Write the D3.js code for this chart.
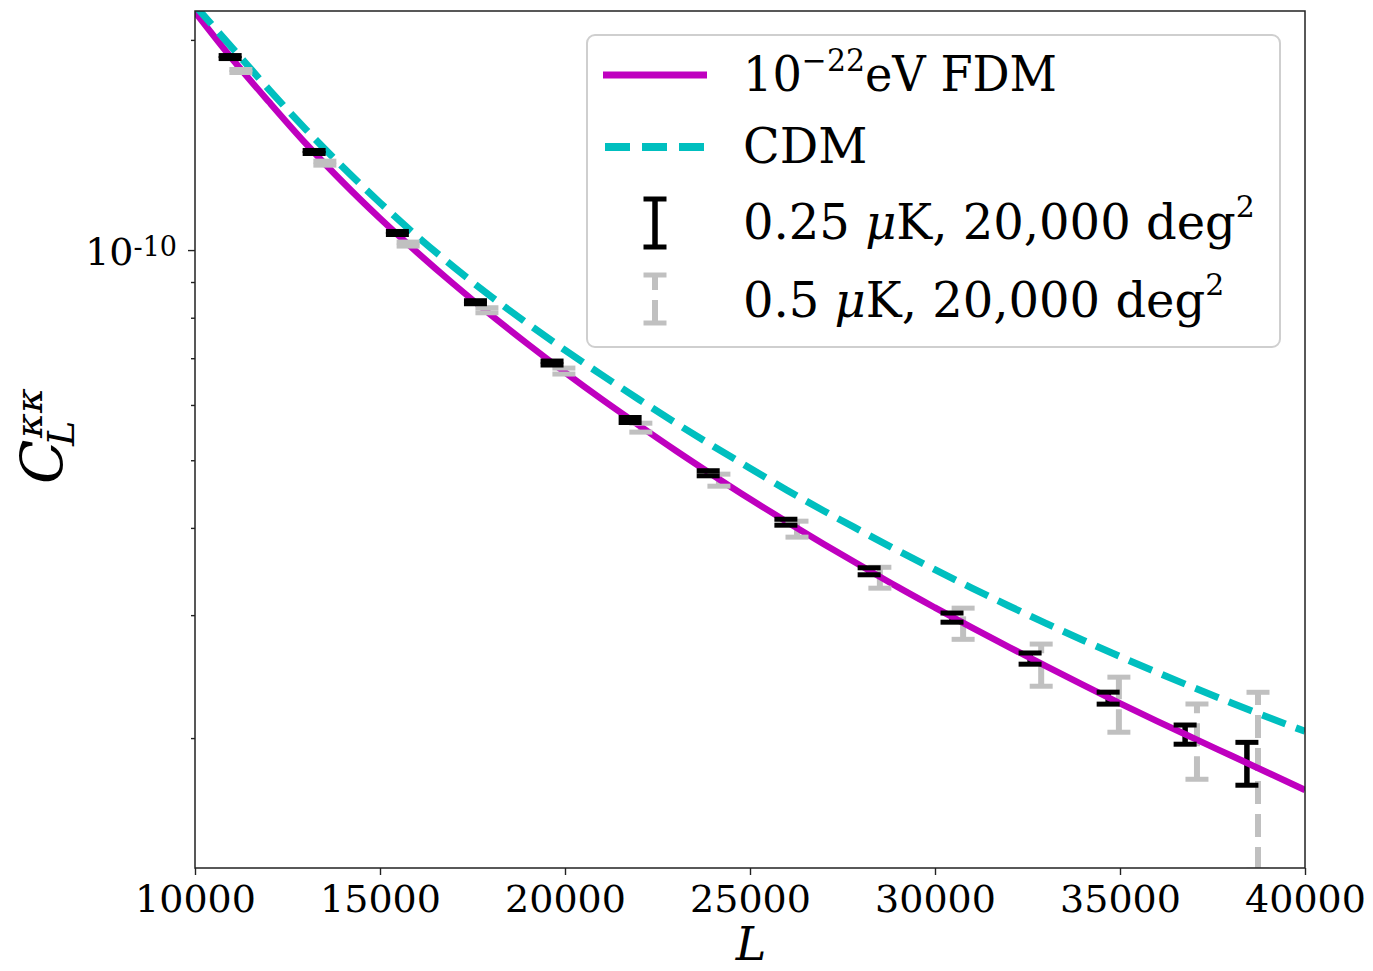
<!DOCTYPE html>
<html>
<head>
<meta charset="utf-8">
<script src="https://cdn.jsdelivr.net/npm/d3@7"></script>
<style>
body { margin: 0; background: #fff; }
text { font-family: "DejaVu Serif", serif; fill: #000; }
</style>
</head>
<body>
<script>
// values of C_L in units of 1e-10
const L_grid = [10000, 11000, 12000, 13000, 14000, 15000, 16000, 17000, 18000, 19000, 20000,
                21000, 22000, 23000, 24000, 25000, 26000, 27000, 28000, 29000, 30000,
                31000, 32000, 33000, 34000, 35000, 36000, 37000, 38000, 39000, 40000];
const fdm = [2.193, 1.880, 1.630, 1.420, 1.250, 1.110, 0.993, 0.893, 0.807, 0.733, 0.668,
             0.611, 0.561, 0.516, 0.476, 0.440, 0.408, 0.379, 0.353, 0.329, 0.3075,
             0.2878, 0.2700, 0.2535, 0.2383, 0.2243, 0.2115, 0.1998, 0.1888, 0.1784, 0.1685];
const cdm = [2.240, 1.950, 1.698, 1.488, 1.314, 1.169, 1.047, 0.945, 0.858, 0.784, 0.719,
             0.662, 0.611, 0.565, 0.524, 0.487, 0.453, 0.423, 0.396, 0.371, 0.3485,
             0.3280, 0.3092, 0.2920, 0.2762, 0.2617, 0.2484, 0.2361, 0.2247, 0.2142, 0.2045];

// 0.25 uK errorbars
const L_black = [10950, 13220, 15470, 17580, 19650, 21760, 23870, 25970, 28220, 30460, 32570, 34680, 36760, 38430];
const C_black = [1.890, 1.382, 1.058, 0.842, 0.689, 0.571, 0.479, 0.4076, 0.3467, 0.2976, 0.2600, 0.2282, 0.2024, 0.1842];
const E_black = [0.0094, 0.0069, 0.0053, 0.0042, 0.0045, 0.0047, 0.0040, 0.0040, 0.0040, 0.0045, 0.0048, 0.0045, 0.0064, 0.0130];

// 0.5 uK errorbars
const L_gray = [11240, 13510, 15760, 17890, 19970, 22050, 24160, 26270, 28510, 30760, 32870, 34970, 37080, 38730];
const C_gray = [1.805, 1.332, 1.020, 0.820, 0.671, 0.5568, 0.4683, 0.3985, 0.3396, 0.2920, 0.2550, 0.2242, 0.1992, 0.1810];
const E_gray = [0.0090, 0.0088, 0.0067, 0.0068, 0.0066, 0.0082, 0.0093, 0.0105, 0.0117, 0.0150, 0.0177, 0.0203, 0.0246, 0.0516];

const xTicks = [10000, 15000, 20000, 25000, 30000, 35000, 40000];
const yMajor = [1];
const yMinor = [0.2, 0.3, 0.4, 0.5, 0.6, 0.7, 0.8, 0.9, 2];

const W = 1373, H = 971;
const pl = 195, pr = 1305, pt = 11, pb = 868;
const magenta = "#bf00bf", cyan = "#00bfbf", silver = "#c0c0c0";

const svg = d3.select("body").append("svg").attr("width", W).attr("height", H);

var x = d3.scaleLinear().domain([10000, 40000]).range([pl, pr]);
var y = d3.scaleLog().domain([0.1303, 2.2]).range([pb, pt]);

svg.append("clipPath").attr("id", "clip")
   .append("rect").attr("x", pl).attr("y", pt).attr("width", pr - pl).attr("height", pb - pt);

const plot = svg.append("g").attr("clip-path", "url(#clip)");

function bars(Ls, Cs, Es) {
	return Ls.map((l, i) => ({ l: l, lo: Cs[i] - Es[i], hi: Cs[i] + Es[i] }));
}
const grayBars = bars(L_gray, C_gray, E_gray);
const blackBars = bars(L_black, C_black, E_black);
const capW = 11.5;

// vertical error lines (drawn bottom -> top so dashes start from the lower end)
plot.append("g").selectAll("path").data(grayBars).join("path")
	.attr("d", d => `M${x(d.l)},${y(d.lo)}V${y(d.hi)}`)
	.attr("stroke", silver).attr("stroke-width", 6).attr("fill", "none")
	.attr("stroke-dasharray", "23,10");
plot.append("g").selectAll("path").data(blackBars).join("path")
	.attr("d", d => `M${x(d.l)},${y(d.lo)}V${y(d.hi)}`)
	.attr("stroke", "#000").attr("stroke-width", 5.5).attr("fill", "none");

const line = d3.line().x((d, i) => x(L_grid[i])).y(d => y(d)).curve(d3.curveMonotoneX);

plot.append("path").datum(fdm).attr("d", line)
	.attr("fill", "none").attr("stroke", magenta).attr("stroke-width", 6.5);
plot.append("path").datum(cdm).attr("d", line)
	.attr("fill", "none").attr("stroke", cyan).attr("stroke-width", 7)
	.attr("stroke-dasharray", "25,11");

// caps
function caps(data, color) {
	const g = plot.append("g");
	["lo", "hi"].forEach(k => {
		g.append("g").selectAll("line").data(data).join("line")
			.attr("x1", d => x(d.l) - capW).attr("x2", d => x(d.l) + capW)
			.attr("y1", d => y(d[k])).attr("y2", d => y(d[k]))
			.attr("stroke", color).attr("stroke-width", 5);
	});
}
caps(grayBars, silver);
caps(blackBars, "#000");

// axes
const xAxis = svg.append("g").attr("transform", `translate(0,${pb})`)
	.call(d3.axisBottom(x).tickValues(xTicks).tickSize(7).tickPadding(10).tickFormat(d3.format("d")));
xAxis.selectAll("text").attr("font-size", 38).attr("font-family", "DejaVu Serif");

const yMinorAxis = svg.append("g").attr("transform", `translate(${pl},0)`)
	.call(d3.axisLeft(y).tickValues(yMinor).tickSize(4).tickFormat(""));
const yAxis = svg.append("g").attr("transform", `translate(${pl},0)`)
	.call(d3.axisLeft(y).tickValues(yMajor).tickSize(7).tickFormat(""));
[xAxis, yAxis, yMinorAxis].forEach(a => {
	a.select(".domain").remove();
	a.selectAll("line").attr("stroke", "#222").attr("stroke-width", 1.4);
});

yMajor.forEach(v => {
	const t = svg.append("text").attr("x", 177).attr("y", y(v) + 15)
		.attr("text-anchor", "end").attr("font-size", 38);
	t.append("tspan").text("10");
	t.append("tspan").attr("font-size", 27).attr("dy", -9).text("-10");
});

// frame
svg.append("rect").attr("x", pl).attr("y", pt).attr("width", pr - pl).attr("height", pb - pt)
	.attr("fill", "none").attr("stroke", "#222").attr("stroke-width", 1.5);

// axis labels
svg.append("text").attr("x", 751).attr("y", 960).attr("text-anchor", "middle")
	.attr("font-family", "Liberation Serif").attr("font-size", 46).attr("font-style", "italic").text("L");

const yl = svg.append("g").attr("transform", "translate(62,484) rotate(-90)")
	.attr("font-family", "Liberation Serif").attr("font-style", "italic");
yl.append("text").attr("x", 0).attr("y", 0).attr("font-size", 58).text("C");
yl.append("text").attr("x", 38).attr("y", 12).attr("font-size", 38).text("L");
yl.append("text").attr("x", 46).attr("y", -20).attr("font-size", 38).text("κκ");

// legend
const lg = svg.append("g");
lg.append("rect").attr("x", 587).attr("y", 35).attr("width", 693).attr("height", 312).attr("rx", 8)
	.attr("fill", "#fff").attr("fill-opacity", 0.8).attr("stroke", "#cfcfcf").attr("stroke-width", 2);
lg.append("line").attr("x1", 603).attr("x2", 707).attr("y1", 75).attr("y2", 75)
	.attr("stroke", magenta).attr("stroke-width", 7);
lg.append("line").attr("x1", 605).attr("x2", 705).attr("y1", 147).attr("y2", 147)
	.attr("stroke", cyan).attr("stroke-width", 8).attr("stroke-dasharray", "25,12");

function legendBar(cx, y0, y1, color, dash) {
	lg.append("path").attr("d", `M${cx},${y1}V${y0}`).attr("stroke", color).attr("stroke-width", dash ? 6 : 5.5)
		.attr("fill", "none").attr("stroke-dasharray", dash);
	[y0, y1].forEach(yy => lg.append("line").attr("x1", cx - capW).attr("x2", cx + capW)
		.attr("y1", yy).attr("y2", yy).attr("stroke", color).attr("stroke-width", 5));
}
legendBar(655, 199, 247, "#000", null);
legendBar(655, 275, 323, silver, "23,10");

const lfs = 48;
const t1 = lg.append("text").attr("x", 743).attr("y", 91).attr("font-size", lfs)
	.attr("textLength", 314).attr("lengthAdjust", "spacingAndGlyphs");
t1.append("tspan").text("10");
t1.append("tspan").attr("font-size", 31).attr("dy", -20).text("−22");
t1.append("tspan").attr("dy", 20).text("eV FDM");

lg.append("text").attr("x", 743).attr("y", 163).attr("font-size", lfs).text("CDM");

const legTexts = [["0.25 ", 239], ["0.5 ", 317]];
legTexts.forEach(([s, yy]) => {
	const t = lg.append("text").attr("x", 743).attr("y", yy).attr("font-size", lfs);
	t.append("tspan").text(s);
	t.append("tspan").attr("font-style", "italic").text("μ");
	t.append("tspan").text("K, 20,000 deg");
	t.append("tspan").attr("font-size", 30).attr("dy", -22).text("2");
});
</script>
</body>
</html>
